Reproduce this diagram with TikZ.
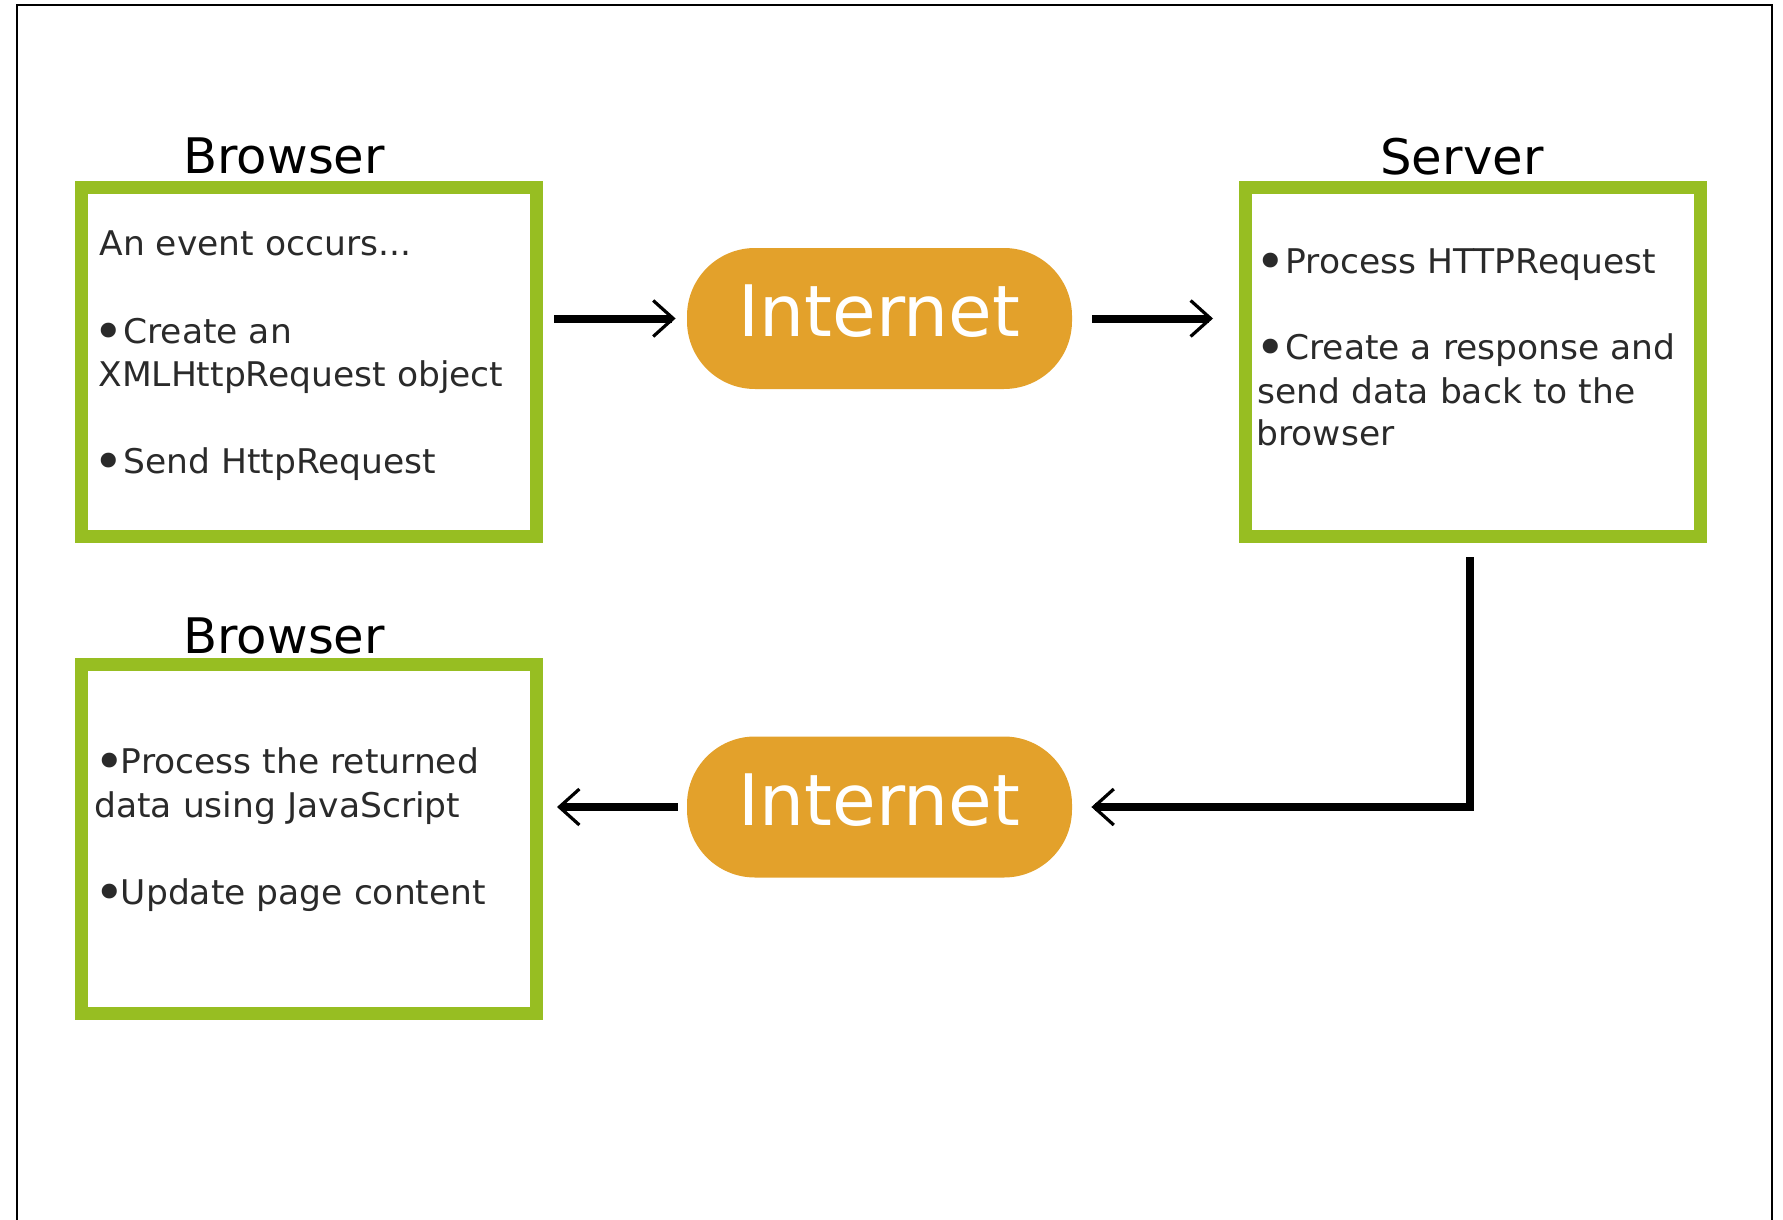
\documentclass[tikz,border=0pt]{standalone}
\usepackage{fontspec}
\setmainfont{DejaVu Sans}
\newfontfamily\bodyfont[FakeStretch=1.015]{DejaVu Sans}
\usetikzlibrary{arrows.meta,calc}
\definecolor{boxgreen}{HTML}{97BE22}
\definecolor{netorange}{HTML}{E3A12B}
\definecolor{bodytext}{HTML}{2A2A2A}
% bullet set in a fixed-width box so the following word starts at a fixed place
\newcommand\bul[1][11.5pt]{\makebox[#1][l]{\hspace{-3.5pt}\raisebox{-3.2pt}{\scalebox{1.5}{•}}}}

\begin{document}
\begin{tikzpicture}[x=0.5pt,y=-0.5pt,
  gbox/.style={draw=boxgreen, line width=6.5pt, minimum width=227.5pt,
    minimum height=174.5pt, inner sep=0pt},
  netpill/.style={fill=netorange, rounded corners=34pt, minimum width=192.5pt,
    minimum height=70.5pt, inner sep=0pt, text=white,
    font=\fontsize{35.5pt}{40pt}\selectfont, text depth=7.5pt},
  title/.style={anchor=base west, inner sep=0pt,
    font=\bodyfont\fontsize{24.5pt}{29pt}\selectfont, text=black},
  body/.style={anchor=base west, inner sep=0pt,
    font=\bodyfont\fontsize{17pt}{21.5pt}\selectfont, text=bodytext},
  flow/.style={line width=4pt,
    -{Straight Barb[length=10pt,width=18pt,line width=1.6pt]}}
]
\useasboundingbox (0,0) rectangle (1783,1220);

% outer frame (open at the bottom)
\draw[line width=1pt] (17,1230) -- (17,5) -- (1772,5) -- (1772,1230);

% boxes
\node[gbox] (brq) at (309,362) {};
\node[gbox] (srv) at (1473,362) {};
\node[gbox] (brs) at (309,839) {};

% network pills
\node[netpill] (net1) at (879.5,318.5) {Internet};
\node[netpill] (net2) at (879.5,807) {Internet};

% titles
\node[title] (brqT) at (183,173) {Browser};
\node[title] (srvT) at (1380,175) {Server};
\node[title] (brsT) at (183,653) {Browser};

% request side
\node[body] (q1) at (99,255) {An event occurs...};
\node[body] (q2) at (100,343) {\bul Create an};
\node[body] (q3) at (98,386) {XMLHttpRequest object};
\node[body] (q4) at (100,473) {\bul Send HttpRequest};

% server side
\node[body] (s1) at (1262,273) {\bul Process HTTPRequest};
\node[body] (s2) at (1262,359) {\bul Create a response and};
\node[body] (s3) at (1257,403) {send data back to the};
\node[body] (s4) at (1256,445) {browser};

% response side
\node[body] (r1) at (101,773) {\bul[9.75pt]Process the returned};
\node[body] (r2) at (94,817) {data using JavaScript};
\node[body] (r3) at (101,904) {\bul[9.75pt]Update page content};

% connectors
\draw[flow, shorten <=5.5pt, shorten >=5.5pt] (brq.east |- net1.west) -- (net1.west);
\draw[flow, shorten <=10pt, shorten >=13pt] (net1.east) -- (srv.west |- net1.east);
\draw[flow, shorten <=7pt, shorten >=9.5pt] ([xshift=-1.5pt]srv.south) |- (net2.east);
\draw[flow, shorten <=4.5pt, shorten >=7pt] (net2.west) -- (brs.east |- net2.west);
\end{tikzpicture}
\end{document}
